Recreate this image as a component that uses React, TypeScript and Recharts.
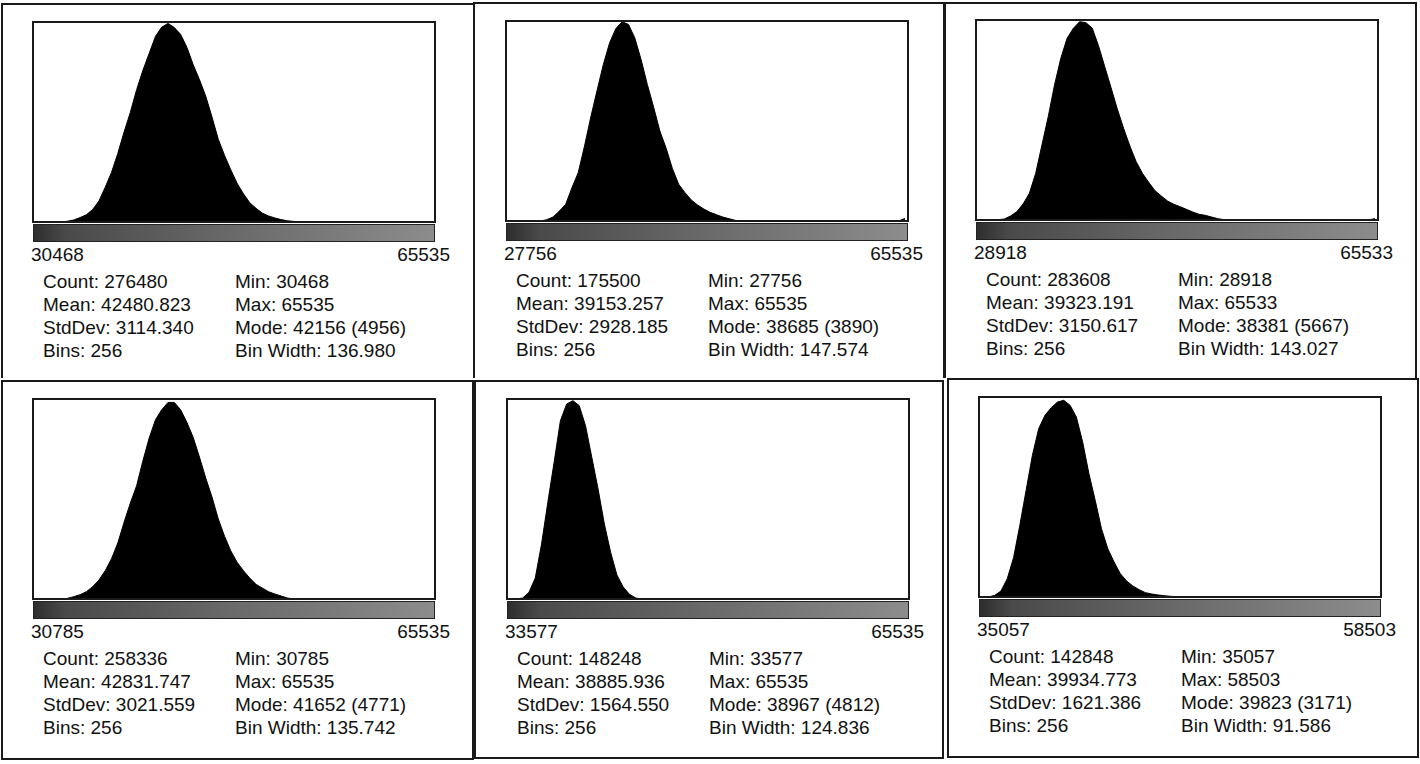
import { AreaChart, Area, XAxis, YAxis } from "recharts";

const counts1 = [
  0, 0, 0, 0, 0, 20, 50, 110, 180, 310, 520, 860, 1230, 1700, 2230, 2720,
  3280, 3760, 4180, 4600, 4830, 4920, 4820, 4650, 4330, 3900, 3530, 3120, 2600, 2050, 1650, 1290,
  960, 700, 480, 340, 220, 150, 100, 60, 30, 15, 0, 0, 0, 0, 0, 0,
  0, 0, 0, 0, 0, 0, 0, 0, 0, 0, 0, 0, 0, 0, 0, 0,
];
const counts2 = [
  0, 0, 0, 0, 0, 0, 26, 78, 194, 324, 648, 940, 1458, 2022, 2540, 3046,
  3467, 3745, 3875, 3823, 3564, 3143, 2657, 2216, 1750, 1413, 1017, 713, 551, 408, 311, 233,
  168, 123, 78, 45, 13, 0, 0, 0, 0, 0, 0, 0, 0, 0, 0, 0,
  0, 0, 0, 0, 0, 0, 0, 0, 0, 0, 0, 0, 0, 0, 0, 50,
];
const counts3 = [
  0, 0, 0, 9, 28, 113, 236, 453, 756, 1322, 2125, 2928, 3825, 4581, 5148, 5431,
  5620, 5591, 5440, 4940, 4345, 3750, 3145, 2597, 2097, 1653, 1322, 1067, 831, 680, 538, 444,
  378, 302, 227, 161, 132, 85, 38, 9, 0, 0, 0, 0, 0, 0, 0, 0,
  0, 0, 0, 0, 0, 0, 0, 0, 0, 0, 0, 0, 0, 0, 0, 40,
];
const counts4 = [
  0, 0, 0, 0, 0, 16, 56, 103, 175, 294, 453, 676, 962, 1336, 1829, 2290,
  2703, 3300, 3840, 4277, 4516, 4690, 4690, 4516, 4214, 3856, 3387, 2886, 2433, 1908, 1495, 1145,
  875, 676, 501, 350, 262, 175, 119, 72, 24, 0, 0, 0, 0, 0, 0, 0,
  0, 0, 0, 0, 0, 0, 0, 0, 0, 0, 0, 0, 0, 0, 0, 0,
];
const counts5 = [
  0, 0, 24, 160, 505, 1323, 2326, 3288, 4290, 4692, 4772, 4652, 4170, 3409, 2647, 1805,
  1123, 577, 289, 112, 24, 0, 0, 0, 0, 0, 0, 0, 0, 0, 0, 0,
  0, 0, 0, 0, 0, 0, 0, 0, 0, 0, 0, 0, 0, 0, 0, 0,
  0, 0, 0, 0, 0, 0, 0, 0, 0, 0, 0, 0, 0, 0, 0, 0,
];
const counts6 = [
  0, 0, 26, 95, 291, 624, 1136, 1691, 2246, 2669, 2880, 3002, 3092, 3118, 3039, 2854,
  2458, 1955, 1533, 1083, 766, 555, 370, 254, 174, 116, 69, 48, 32, 21, 11, 5,
  0, 0, 0, 0, 0, 0, 0, 0, 0, 0, 0, 0, 0, 0, 0, 0,
  0, 0, 0, 0, 0, 0, 0, 0, 0, 0, 0, 0, 0, 0, 0, 0,
];

const minValues = [30468, 27756, 28918, 30785, 33577, 35057];
const maxValues = [65535, 65535, 65533, 65535, 65535, 58503];
const modeCounts = [4956, 3890, 5667, 4771, 4812, 3171];
const binWidths = [136.98, 147.574, 143.027, 135.742, 124.836, 91.586];

const statsLeft = [
  ["Count: 276480", "Mean: 42480.823", "StdDev: 3114.340", "Bins: 256"],
  ["Count: 175500", "Mean: 39153.257", "StdDev: 2928.185", "Bins: 256"],
  ["Count: 283608", "Mean: 39323.191", "StdDev: 3150.617", "Bins: 256"],
  ["Count: 258336", "Mean: 42831.747", "StdDev: 3021.559", "Bins: 256"],
  ["Count: 148248", "Mean: 38885.936", "StdDev: 1564.550", "Bins: 256"],
  ["Count: 142848", "Mean: 39934.773", "StdDev: 1621.386", "Bins: 256"],
];
const statsRight = [
  ["Min: 30468", "Max: 65535", "Mode: 42156 (4956)", "Bin Width: 136.980"],
  ["Min: 27756", "Max: 65535", "Mode: 38685 (3890)", "Bin Width: 147.574"],
  ["Min: 28918", "Max: 65533", "Mode: 38381 (5667)", "Bin Width: 143.027"],
  ["Min: 30785", "Max: 65535", "Mode: 41652 (4771)", "Bin Width: 135.742"],
  ["Min: 33577", "Max: 65535", "Mode: 38967 (4812)", "Bin Width: 124.836"],
  ["Min: 35057", "Max: 58503", "Mode: 39823 (3171)", "Bin Width: 91.586"],
];

const allCounts = [counts1, counts2, counts3, counts4, counts5, counts6];

// layout: plot box top-left and outer frame (x1, y1, x2, y2, closed bottom?)
const plotPos = [
  [33, 22], [506, 21], [976, 20],
  [33, 399], [507, 399], [979, 397],
];
const framePos: [number, number, number, number, boolean][] = [
  [2, 4, 474, 377, false], [474, 3, 944, 377, false], [945, 3, 1416, 377, false],
  [2, 381, 473, 759, true], [475, 381, 943, 758, true], [948, 379, 1418, 757, true],
];

const PLOT_W = 402;
const PLOT_H = 200;
const FONT = "'Liberation Sans', Arial, sans-serif";
const GROUP = 4;

function EdgeTick(props: any) {
  const { x, payload, min } = props;
  const first = payload.value === min;
  return (
    <text
      x={first ? x - 2 : x + 15}
      y={PLOT_H + 39}
      textAnchor={first ? "start" : "end"}
      fontSize={19}
      fontFamily={FONT}
      fill="#111"
    >
      {payload.value}
    </text>
  );
}

function Histogram({ idx }: { idx: number }) {
  const min = minValues[idx];
  const max = maxValues[idx];
  const step = binWidths[idx] * GROUP;
  const data = allCounts[idx].map((count, i) => ({ x: min + (i + 0.5) * step, count }));
  const [pl, pt] = plotPos[idx];
  const [x1, y1, x2, y2, closed] = framePos[idx];

  return (
    <>
      <div
        style={{
          position: "absolute",
          left: x1 - 1,
          top: y1 - 1,
          width: x2 - x1 + 2,
          height: y2 - y1 + 2,
          boxSizing: "border-box",
          border: "2px solid #1a1a1a",
          borderBottom: closed ? "2px solid #1a1a1a" : "none",
        }}
      />
      <div style={{ position: "absolute", left: pl - 4, top: pt }}>
        <AreaChart width={PLOT_W + 24} height={PLOT_H + 44} data={data} margin={{ top: 0, right: 20, bottom: 0, left: 4 }}>
          <XAxis
            type="number"
            dataKey="x"
            domain={[min, max]}
            ticks={[min, max]}
            interval={0}
            allowDataOverflow
            axisLine={false}
            tickLine={false}
            height={44}
            tick={(p: any) => <EdgeTick {...p} min={min} />}
          />
          <YAxis hide domain={[0, modeCounts[idx]]} allowDataOverflow />
          <Area
            type="linear"
            dataKey="count"
            stroke="#000"
            strokeWidth={1}
            fill="#000"
            fillOpacity={1}
            dot={false}
            activeDot={false}
            isAnimationActive={false}
          />
        </AreaChart>
      </div>
      <div
        style={{
          position: "absolute",
          left: pl - 1,
          top: pt - 1,
          width: PLOT_W + 2,
          height: PLOT_H + 2,
          boxSizing: "border-box",
          border: "2px solid #1a1a1a",
        }}
      />
      <div
        style={{
          position: "absolute",
          left: pl,
          top: pt + 202,
          width: PLOT_W,
          height: 18,
          boxSizing: "border-box",
          border: "1px solid #222",
          background: "linear-gradient(to right, #2e2e2e 0%, #4a4a4a 8%, #6a6a6a 50%, #8c8c8c 100%)",
        }}
      />
      {[statsLeft[idx], statsRight[idx]].map((lines, c) => (
        <div
          key={c}
          style={{
            position: "absolute",
            left: pl + (c === 0 ? 10 : 202),
            top: pt + 248,
            fontFamily: FONT,
            fontSize: 19,
            lineHeight: "23px",
            color: "#111",
            whiteSpace: "nowrap",
          }}
        >
          {lines.map((t) => (
            <div key={t}>{t}</div>
          ))}
        </div>
      ))}
    </>
  );
}

export default function App() {
  return (
    <div style={{ position: "absolute", left: 0, top: 0, width: 1420, height: 764, background: "#fff", overflow: "hidden" }}>
      {minValues.map((_, i) => (
        <Histogram key={i} idx={i} />
      ))}
    </div>
  );
}
